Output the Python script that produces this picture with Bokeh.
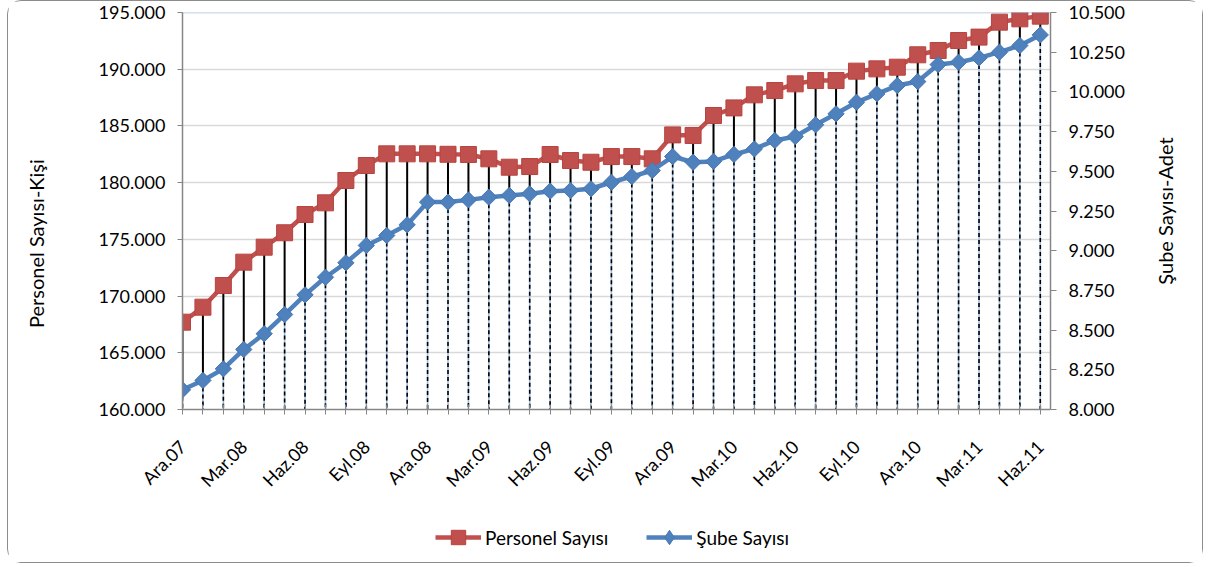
from math import pi
from bokeh.plotting import figure
from bokeh.layouts import column, row
from bokeh.models import (Range1d, LinearAxis, FixedTicker, Legend, LegendItem,
                          Span, ColumnDataSource, Label)
from bokeh.embed import file_html
from bokeh.resources import INLINE

# ---------------- data ----------------
months = ["Ara.07",
          "Oca.08", "Şub.08", "Mar.08", "Nis.08", "May.08", "Haz.08",
          "Tem.08", "Ağu.08", "Eyl.08", "Eki.08", "Kas.08", "Ara.08",
          "Oca.09", "Şub.09", "Mar.09", "Nis.09", "May.09", "Haz.09",
          "Tem.09", "Ağu.09", "Eyl.09", "Eki.09", "Kas.09", "Ara.09",
          "Oca.10", "Şub.10", "Mar.10", "Nis.10", "May.10", "Haz.10",
          "Tem.10", "Ağu.10", "Eyl.10", "Eki.10", "Kas.10", "Ara.10",
          "Oca.11", "Şub.11", "Mar.11", "Nis.11", "May.11", "Haz.11"]

personel = [167700, 169020, 170930, 172990, 174310, 175580, 177190, 178220, 180190, 181510,
            182540, 182540, 182540, 182500, 182480, 182100, 181360, 181420, 182480, 181950,
            181800, 182300, 182300, 182100, 184210, 184160, 185920, 186590, 187740, 188120,
            188710, 189000, 189000, 189830, 190030, 190180, 191270, 191650, 192530, 192830,
            194150, 194440, 194680]

sube = [8124, 8183, 8256, 8378, 8477, 8598, 8722, 8833, 8924, 9033,
        9096, 9163, 9306, 9306, 9320, 9337, 9348, 9358, 9375, 9379,
        9390, 9431, 9467, 9505, 9593, 9557, 9562, 9606, 9641, 9694,
        9719, 9793, 9862, 9935, 9988, 10040, 10065, 10172, 10187, 10214,
        10250, 10292, 10359]

left_ticks = [160000, 165000, 170000, 175000, 180000, 185000, 190000, 195000]
right_ticks = [8000, 8250, 8500, 8750, 9000, 9250, 9500, 9750, 10000, 10250, 10500]

label_every = 3
left_title = "Personel Sayısı-Kişi"
right_title = "Şube Sayısı-Adet"
name_personel = "Personel Sayısı"
name_sube = "Şube Sayısı"

# ---------------- helpers ----------------
L0, L1 = left_ticks[0], left_ticks[-1]
R0, R1 = right_ticks[0], right_ticks[-1]
k = (L1 - L0) / (R1 - R0)
x = list(range(len(months)))
X0, X1 = 0, len(months) - 0.5
sube_on_left = [L0 + (s - R0) * k for s in sube]
base_right = [R0] * len(x)

src = ColumnDataSource(dict(x=x, personel=personel, sube=sube,
                            sube_l=sube_on_left, base=base_right))


def tr_fmt(v):
    return f"{v:,}".replace(",", ".")


FONT = "Lato"
RED = "#C0504D"
BLUE = "#4F81BD"
AXIS = "#868686"
W = 1194
LW, RW = 60, 62            # side strips holding the axis titles
PH = 500                   # main plot height
TOP, BOTTOM = 11, 92       # borders around the plot frame
TICK_FS = "18px"
TITLE_FS = "20px"

p = figure(width=W - LW - RW, height=PH,
           x_range=Range1d(X0, X1), y_range=Range1d(L0, L1),
           output_backend="svg", toolbar_location=None,
           min_border_left=114, min_border_right=90,
           min_border_top=TOP, min_border_bottom=BOTTOM)
p.extra_y_ranges = {"sube": Range1d(R0, R1)}
p.outline_line_color = None
p.background_fill_color = "white"
p.border_fill_color = "white"

# grid
p.xgrid.visible = False
p.ygrid.ticker = FixedTicker(ticks=left_ticks)
p.ygrid.grid_line_color = "#d9d9d9"
p.ygrid.grid_line_width = 1.5

# top dotted border line
p.add_layout(Span(location=L1, dimension="width", line_color=BLUE,
                  line_dash="1 1", line_width=1.5))

# drop lines (from Şube points to the axis)
p.segment(x0="x", y0="sube", x1="x", y1="base", source=src, y_range_name="sube",
          line_color="#9dbde3", line_width=1.6)
p.segment(x0="x", y0="sube", x1="x", y1="base", source=src, y_range_name="sube",
          line_color="black", line_width=1.6, line_dash="4 3")
# high-low lines
p.segment(x0="x", y0="personel", x1="x", y1="sube_l", source=src,
          line_color="black", line_width=2)

# series
line_kw = dict(line_width=4.5)
red_mk = dict(marker="square", size=16, fill_color=RED, line_color="#b8433f", line_width=1)
blue_mk = dict(marker="square", angle=pi / 4, size=11.5, fill_color=BLUE,
               line_color="#4677b3", line_width=1)

p.line("x", "personel", source=src, line_color=RED, **line_kw)
p.scatter("x", "personel", source=src, **red_mk)
p.line("x", "sube", source=src, y_range_name="sube", line_color=BLUE, **line_kw)
p.scatter("x", "sube", source=src, y_range_name="sube", **blue_mk)

# x axis
xa = p.xaxis[0]
xa.ticker = FixedTicker(ticks=x)
xa.major_label_overrides = {i: (months[i] if i % label_every == 0 else "") for i in x}
xa.major_label_orientation = pi / 4
xa.major_label_text_font = FONT
xa.major_label_text_font_size = TICK_FS
xa.major_label_text_color = "black"
xa.major_label_standoff = 29
xa.axis_line_color = AXIS
xa.axis_line_width = 1.5
xa.major_tick_line_color = AXIS
xa.major_tick_in = 5
xa.major_tick_out = 5
xa.minor_tick_line_color = None

# left axis
ya = p.yaxis[0]
ya.ticker = FixedTicker(ticks=left_ticks)
ya.major_label_overrides = {t: tr_fmt(t) for t in left_ticks}
ya.major_label_text_font = FONT
ya.major_label_text_font_size = TICK_FS
ya.major_label_text_color = "black"
ya.major_label_standoff = 12
ya.axis_line_color = AXIS
ya.axis_line_width = 1.5
ya.major_tick_line_color = AXIS
ya.major_tick_in = 0
ya.major_tick_out = 5
ya.minor_tick_line_color = None

# right axis
ra = LinearAxis(y_range_name="sube", ticker=FixedTicker(ticks=right_ticks))
ra.major_label_overrides = {t: tr_fmt(t) for t in right_ticks}
ra.major_label_text_font = FONT
ra.major_label_text_font_size = TICK_FS
ra.major_label_text_color = "black"
ra.major_label_standoff = 12
ra.axis_line_color = AXIS
ra.axis_line_width = 1.5
ra.major_tick_line_color = AXIS
ra.major_tick_in = 0
ra.major_tick_out = 6
ra.minor_tick_line_color = None
p.add_layout(ra, "right")


# ---------------- title strips (axis titles read bottom-to-top) ----------------
def strip(width, height, **borders):
    f = figure(width=width, height=height, x_range=Range1d(0, 1), y_range=Range1d(0, 1),
               output_backend="svg", toolbar_location=None, **borders)
    f.axis.visible = False
    f.grid.visible = False
    f.outline_line_color = None
    f.border_fill_color = "white"
    f.background_fill_color = "white"
    return f


title_kw = dict(angle=pi / 2, text_align="center", text_baseline="middle",
                text_font=FONT, text_font_size=TITLE_FS, text_color="black")

ls = strip(LW, PH, min_border_left=0, min_border_right=0,
           min_border_top=TOP, min_border_bottom=BOTTOM)
ls.add_layout(Label(x=0.45, y=0.418, text=left_title, **title_kw))

rs = strip(RW, PH, min_border_left=0, min_border_right=0,
           min_border_top=TOP, min_border_bottom=BOTTOM)
rs.add_layout(Label(x=0.40, y=0.5, text=right_title, **title_kw))

# ---------------- legend strip ----------------
lf = figure(width=W, height=61, x_range=Range1d(-100, -99), y_range=Range1d(-100, -99),
            output_backend="svg", toolbar_location=None,
            min_border_left=174, min_border_right=152, min_border_top=0, min_border_bottom=0)
lf.axis.visible = False
lf.grid.visible = False
lf.outline_line_color = None
lf.border_fill_color = "white"
lr_line = lf.line("x", "personel", source=src, line_color=RED, **line_kw)
lr_mark = lf.scatter("x", "personel", source=src, **red_mk)
lb_line = lf.line("x", "sube", source=src, line_color=BLUE, **line_kw)
lb_mark = lf.scatter("x", "sube", source=src, marker="diamond", size=16,
                     fill_color=BLUE, line_color="#4677b3", line_width=1)

legend = Legend(items=[LegendItem(label=name_personel, renderers=[lr_line, lr_mark]),
                       LegendItem(label=name_sube, renderers=[lb_line, lb_mark])],
                orientation="horizontal", location=(253, 7),
                label_text_font=FONT, label_text_font_size="19px",
                label_text_color="black", glyph_width=46, glyph_height=36,
                spacing=38, padding=0, margin=0, label_standoff=4,
                border_line_color=None, background_fill_alpha=0)
lf.add_layout(legend, "center")

layout = column(row(ls, p, rs, spacing=0), lf, spacing=0,
                styles={"border": "1px solid #8c8c8c", "border-radius": "14px",
                        "margin-left": "7px", "background": "white"})

open("out.html", "w").write(file_html(layout, INLINE))
